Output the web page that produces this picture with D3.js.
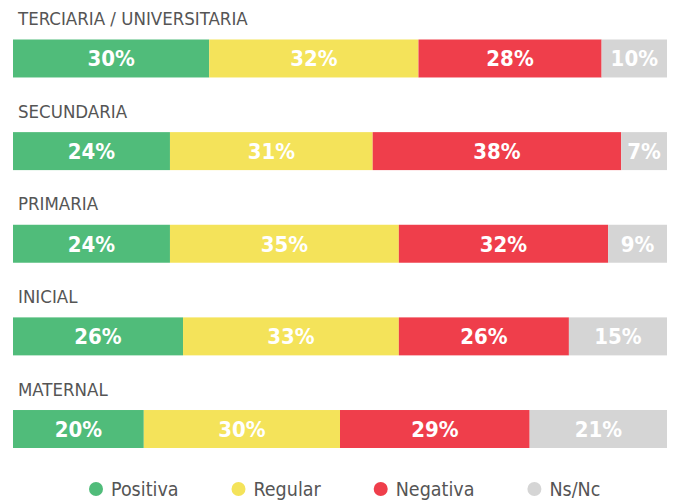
<!DOCTYPE html>
<html>
<head>
<meta charset="utf-8">
<script src="https://cdn.jsdelivr.net/npm/d3@7"></script>
<style>
  body { margin: 0; background: #fff; }
  text { font-family: "DejaVu Sans Condensed", "DejaVu Sans", sans-serif; font-stretch: condensed; }
</style>
</head>
<body>
<div id="chart"></div>
<script>
let categories = ["TERCIARIA / UNIVERSITARIA", "SECUNDARIA", "PRIMARIA", "INICIAL", "MATERNAL"];
let series = ["Positiva", "Regular", "Negativa", "Ns/Nc"];
let positiva = [30, 24, 24, 26, 20];
let regular = [32, 31, 35, 33, 30];
let negativa = [28, 38, 32, 26, 29];
let nsnc = [10, 7, 9, 15, 21];
let colors = ["#50bc7a", "#f4e35a", "#ef3e4b", "#d5d5d5"];

let width = 673;
let height = 500;
let margin = { left: 13, right: 6 };

let data = categories.map((c, i) => ({
  cat: c,
  Positiva: positiva[i],
  Regular: regular[i],
  Negativa: negativa[i],
  "Ns/Nc": nsnc[i]
}));

let stacked = d3.stack().keys(series)(data);

let svg = d3
  .select("#chart")
  .append("svg")
  .attr("width", width)
  .attr("height", height);

let x = d3.scaleLinear().domain([0, 100]).range([margin.left, width - margin.right]);
let y = d3.scaleBand().domain(categories).range([39.5, 448]).paddingInner(0.59).paddingOuter(0);
let color = d3.scaleOrdinal().domain(series).range(colors);

// category titles
svg
  .selectAll(".cat")
  .data(categories)
  .enter()
  .append("text")
  .attr("class", "cat")
  .attr("x", 18)
  .attr("y", (d) => y(d) - 14.5)
  .attr("fill", "#555")
  .style("font-size", "18.5px")
  .text((d) => d);

let groups = svg
  .selectAll(".serie")
  .data(stacked)
  .enter()
  .append("g")
  .attr("class", "serie")
  .attr("fill", (d) => color(d.key));

groups
  .selectAll("rect")
  .data((d) => d)
  .enter()
  .append("rect")
  .attr("x", (d) => x(d[0]))
  .attr("y", (d) => y(d.data.cat))
  .attr("width", (d) => x(d[1]) - x(d[0]))
  .attr("height", y.bandwidth());

groups
  .selectAll(".val")
  .data((d) => d)
  .enter()
  .append("text")
  .attr("class", "val")
  .attr("x", (d) => (x(d[0]) + x(d[1])) / 2)
  .attr("y", (d) => y(d.data.cat) + y.bandwidth() / 2)
  .attr("dy", "0.36em")
  .attr("text-anchor", "middle")
  .attr("fill", "#fff")
  .style("font-size", "22px")
  .style("font-weight", "bold")
  .text((d) => d[1] - d[0] + "%");

// legend
let legend = svg.append("g").attr("class", "legend");
let lx = 0;
series.forEach((s) => {
  let item = legend.append("g").attr("transform", "translate(" + lx + ",0)");
  item.append("circle").attr("cx", 7).attr("cy", 0).attr("r", 7).attr("fill", color(s));
  let t = item
    .append("text")
    .attr("x", 22)
    .attr("y", 7)
    .attr("fill", "#555")
    .style("font-size", "19.5px")
    .text(s);
  lx += 22 + t.node().getComputedTextLength() + 53;
});
legend.attr("transform", "translate(89,489)");
</script>
</body>
</html>
